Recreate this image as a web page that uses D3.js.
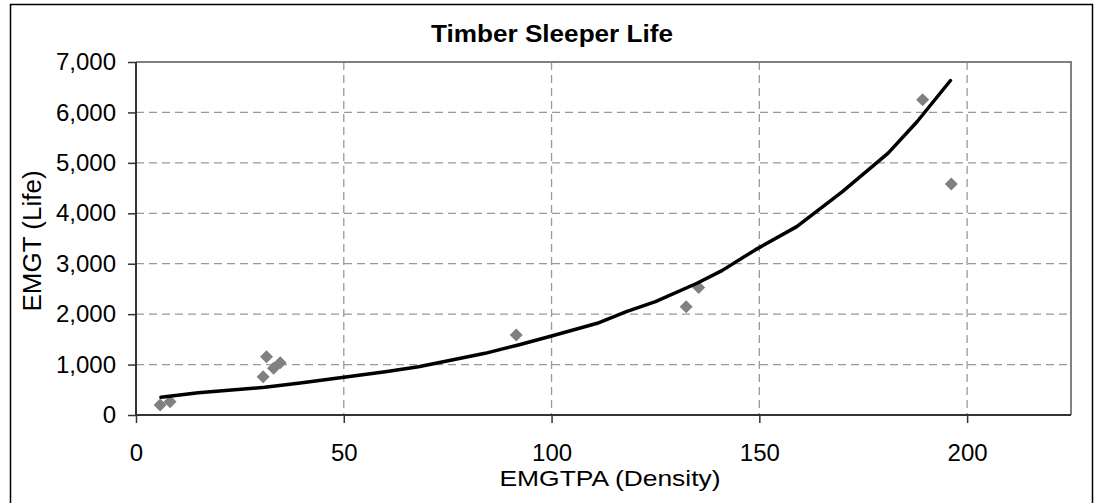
<!DOCTYPE html>
<html><head><meta charset="utf-8">
<script src="https://cdn.jsdelivr.net/npm/d3@7"></script>
<style>body{margin:0;background:#fff}svg{display:block;font-family:"Liberation Sans",Arial,sans-serif}</style>
</head><body><svg id="c" width="1097" height="503"></svg>
<script>
const title = "Timber Sleeper Life";
const xTitle = "EMGTPA (Density)";
const yTitle = "EMGT (Life)";
const densityX = [5.8, 8.2, 30.6, 31.4, 33.1, 34.7, 91.5, 132.4, 135.4, 189.3, 196.2];
const lifeY = [198, 264, 760, 1157, 926, 1038, 1587, 2149, 2526, 6250, 4583];
const trendX = [6, 15, 23, 31, 40, 50, 60, 68, 84, 92, 100, 111, 118, 125, 135, 141, 149, 159, 170, 181, 188, 196];
const trendY = [351, 443, 496, 549, 641, 748, 859, 958, 1223, 1389, 1567, 1819, 2050, 2248, 2613, 2863, 3274, 3736, 4431, 5192, 5820, 6633];
const xTicks = [0, 50, 100, 150, 200];
const yTicks = [0, 1000, 2000, 3000, 4000, 5000, 6000, 7000];

const svg = d3.select("#c");
const L = 136, R = 1071, T = 62, B = 415;
const x = d3.scaleLinear().domain([0, 225]).range([L, R]);
const y = d3.scaleLinear().domain([0, 7000]).range([B, T]);

svg.append("rect").attr("x", 10.5).attr("y", 4.5).attr("width", 1082).attr("height", 520)
  .attr("fill", "#fff").attr("stroke", "#000").attr("stroke-width", 1.5);

svg.append("g").selectAll("line").data(yTicks.filter(d => d > 0 && d < 7000)).join("line")
  .attr("x1", L).attr("x2", R).attr("y1", d => y(d)).attr("y2", d => y(d))
  .attr("stroke", "#999").attr("stroke-width", 1.3).attr("stroke-dasharray", "8,5");
svg.append("g").selectAll("line").data(xTicks.filter(d => d > 0)).join("line")
  .attr("y1", T).attr("y2", B).attr("x1", d => x(d)).attr("x2", d => x(d))
  .attr("stroke", "#999").attr("stroke-width", 1.3).attr("stroke-dasharray", "8,5");

svg.append("path").attr("d", `M${L},${T}H${R}V${B}`).attr("fill", "none")
  .attr("stroke", "#808080").attr("stroke-width", 2);

const xAxis = d3.axisBottom(x).tickValues(xTicks).tickSize(8).tickPadding(21).tickFormat(d3.format(","));
const yAxis = d3.axisLeft(y).tickValues(yTicks).tickSize(8).tickPadding(12).tickFormat(d3.format(","));
const gx = svg.append("g").attr("transform", `translate(0,${B})`).call(xAxis);
const gy = svg.append("g").attr("transform", `translate(${L},0)`).call(yAxis);
[gx, gy].forEach(g => {
  g.select(".domain").attr("stroke", "#333").attr("stroke-width", 2);
  g.selectAll(".tick line").attr("stroke", "#333").attr("stroke-width", 1.5);
  g.selectAll("text").attr("font-size", 24).attr("fill", "#000").attr("font-family", "'Liberation Sans', Arial, sans-serif");
});
gy.select(".domain").attr("d", `M0,${B}V${T}`);
gx.select(".domain").attr("d", `M${L},0H${R}`);

const pts = densityX.map((d, i) => [d, lifeY[i]]);
const h = 6.5;
svg.append("g").selectAll("path").data(pts).join("path")
  .attr("d", d => `M${x(d[0])},${y(d[1]) - h}l${h},${h}l${-h},${h}l${-h},${-h}z`)
  .attr("fill", "#808080");

const tr = trendX.map((d, i) => [d, trendY[i]]);
svg.append("path").datum(tr)
  .attr("d", d3.line().x(d => x(d[0])).y(d => y(d[1])))
  .attr("fill", "none").attr("stroke", "#000").attr("stroke-width", 3.5)
  .attr("stroke-linecap", "round").attr("stroke-linejoin", "round");

svg.append("text").attr("x", 552).attr("y", 42).attr("text-anchor", "middle")
  .attr("font-size", 23).attr("font-weight", "bold").attr("textLength", 242).attr("lengthAdjust", "spacingAndGlyphs").text(title);
svg.append("text").attr("x", 610).attr("y", 486).attr("text-anchor", "middle")
  .attr("font-size", 22).attr("textLength", 221).attr("lengthAdjust", "spacingAndGlyphs").text(xTitle);
svg.append("text").attr("transform", "translate(41,241) rotate(-90)").attr("text-anchor", "middle")
  .attr("font-size", 26).text(yTitle);
</script></body></html>
